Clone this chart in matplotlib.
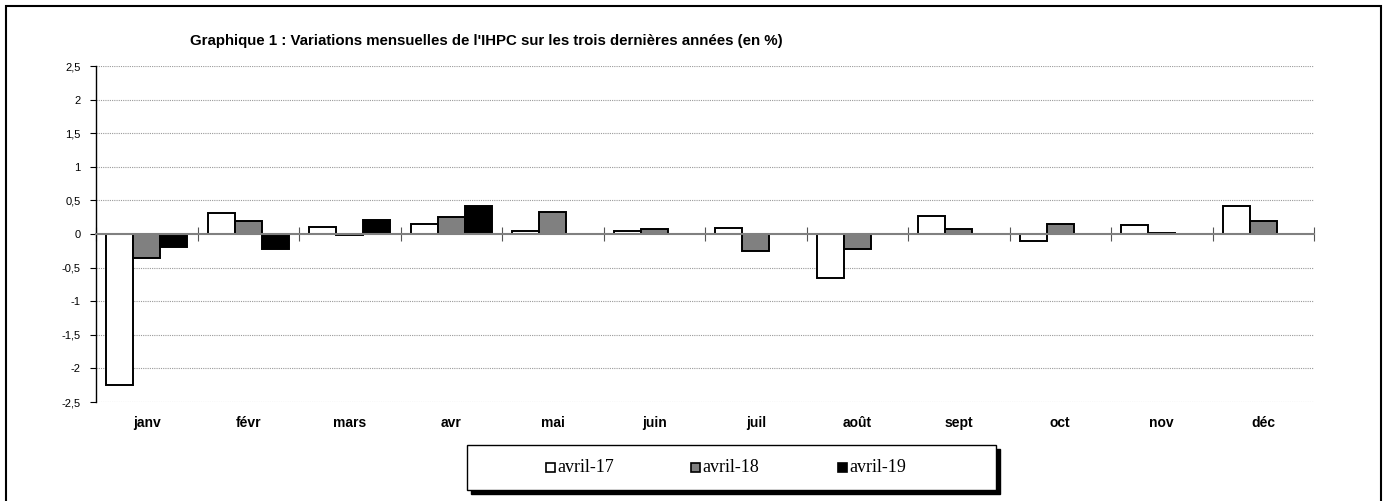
import matplotlib
matplotlib.use("Agg")
import matplotlib.pyplot as plt
import numpy as np
from matplotlib.patches import Rectangle
import matplotlib.transforms as mtransforms

months = ["janv", "févr", "mars", "avr", "mai", "juin", "juil", "août", "sept", "oct", "nov", "déc"]
avril_17 = [-2.25, 0.31, 0.11, 0.15, 0.04, 0.05, 0.09, -0.66, 0.27, -0.11, 0.13, 0.41]
avril_18 = [-0.35, 0.20, -0.01, 0.25, 0.32, 0.08, -0.25, -0.23, 0.07, 0.15, 0.02, 0.20]
avril_19 = [-0.20, -0.23, 0.21, 0.42, np.nan, np.nan, np.nan, np.nan, np.nan, np.nan, np.nan, np.nan]
series_names = ["avril-17", "avril-18", "avril-19"]
series_colors = ["#ffffff", "#808080", "#000000"]
yticks = [2.5, 2.0, 1.5, 1.0, 0.5, 0.0, -0.5, -1.0, -1.5, -2.0, -2.5]
ytick_labels = ["2,5", "2", "1,5", "1", "0,5", "0", "-0,5", "-1", "-1,5", "-2", "-2,5"]
title = "Graphique 1 : Variations mensuelles de l'IHPC sur les trois dernières années (en %)"

W, H = 1385, 501
fig = plt.figure(figsize=(W / 100, H / 100), dpi=100)
fig.patch.set_facecolor("white")

# outer frame (open at the bottom, cut by the image edge)
fig.add_artist(Rectangle((5.5 / W, -20 / H), 1375 / W, 515 / H, transform=fig.transFigure,
                         fill=False, edgecolor="black", linewidth=1.5))

ax = fig.add_axes([96 / W, 1 - 402 / H, (1314 - 96) / W, (402 - 66) / H])
ax.set_facecolor("white")

x = np.arange(len(months))
bw = 0.265
data = [avril_17, avril_18, avril_19]
for i, (vals, name, col) in enumerate(zip(data, series_names, series_colors)):
    ax.bar(x + (i - 1) * bw, vals, width=bw, color=col, edgecolor="black",
           linewidth=1.4, label=name, zorder=3)

ax.set_xlim(-0.5, len(months) - 0.5)
ax.set_ylim(-2.5, 2.5)

# gridlines
for yt in yticks:
    if yt != 0:
        ax.axhline(yt, color="#9a9a9a", linewidth=0.8, linestyle=(0, (1, 1)), zorder=1)

ax.set_yticks(yticks)
ax.set_yticklabels(ytick_labels, fontsize=8, family="Liberation Sans")
ax.tick_params(axis="y", direction="out", length=4, width=0.8, pad=7)

for s in ["top", "right"]:
    ax.spines[s].set_visible(False)
ax.spines["left"].set_linewidth(1.0)
ax.spines["bottom"].set_position(("data", 0))
ax.spines["bottom"].set_color("#808080")
ax.spines["bottom"].set_linewidth(1.5)
ax.spines["bottom"].set_zorder(4)
ax.set_xticks(np.arange(-0.5, len(months), 1.0))
ax.set_xticklabels([])
ax.tick_params(axis="x", direction="inout", length=10, width=0.8, color="#555555")

trans = mtransforms.blended_transform_factory(ax.transData, fig.transFigure)
for xi, m in zip(x, months):
    ax.text(xi, 1 - 423 / H, m, transform=trans, ha="center", va="center",
            fontsize=10, fontweight="bold", family="Liberation Sans")

fig.text(190 / W, 1 - 41 / H, title, ha="left", va="center", fontsize=10.8,
         fontweight="bold", family="Liberation Sans")

# legend box with shadow
lx0, ly0, lw, lh = 467, 445, 529, 45
fig.add_artist(Rectangle(((lx0 + 4) / W, 1 - (ly0 + lh + 4) / H), lw / W, lh / H,
                         transform=fig.transFigure, facecolor="black", edgecolor="black", zorder=5))
fig.add_artist(Rectangle((lx0 / W, 1 - (ly0 + lh) / H), lw / W, lh / H,
                         transform=fig.transFigure, facecolor="white", edgecolor="black",
                         linewidth=1.0, zorder=6))
leg_x = [546, 691, 838]
ly = 467
for px, name, col in zip(leg_x, series_names, series_colors):
    fig.add_artist(Rectangle(((px) / W, 1 - (ly + 4.5) / H), 9 / W, 9 / H,
                             transform=fig.transFigure, facecolor=col, edgecolor="black",
                             linewidth=1.2, zorder=7))
    fig.text((px + 11) / W, 1 - ly / H, name, ha="left", va="center", fontsize=13,
             family="Liberation Serif", zorder=7)

fig.savefig("out.png", dpi=100, facecolor="white")
